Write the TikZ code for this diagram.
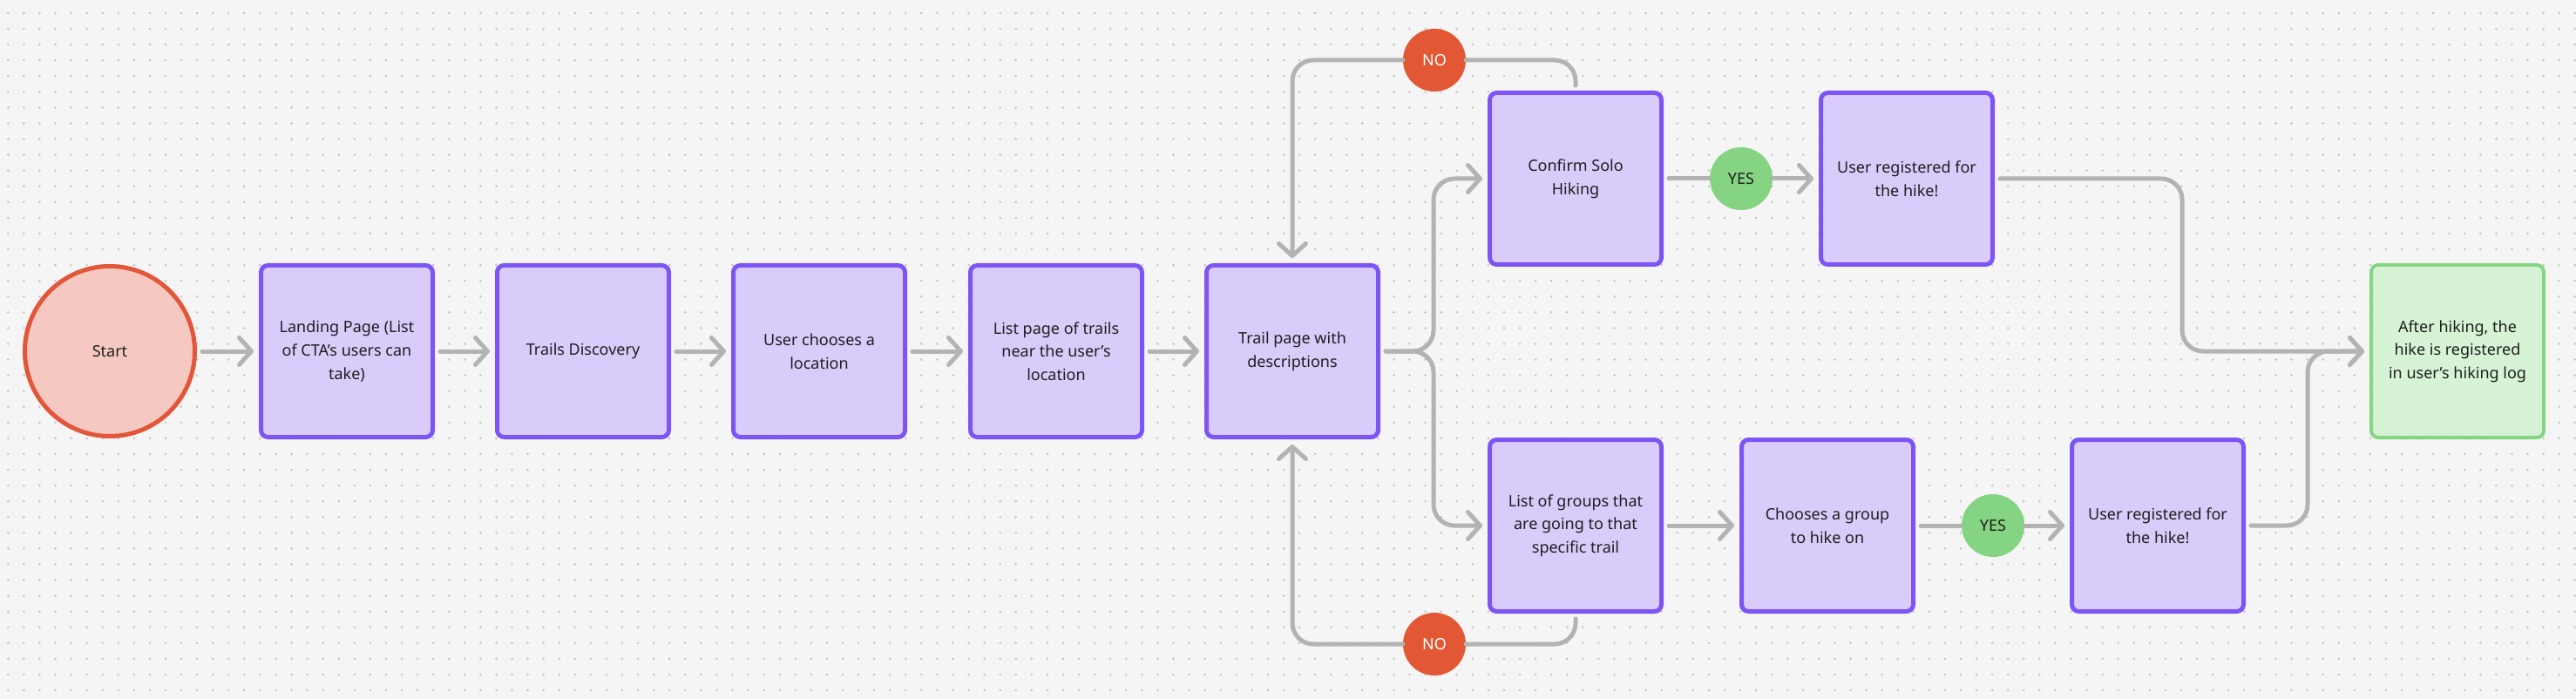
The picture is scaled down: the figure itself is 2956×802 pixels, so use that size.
\documentclass[tikz,border=0pt]{standalone}
\usepackage{fontspec}
\setmainfont{Noto Sans}
\usetikzlibrary{arrows.meta}
\definecolor{bgcol}{HTML}{F5F5F5}
\definecolor{dotgray}{HTML}{C2C2C2}
\definecolor{boxline}{HTML}{7C55F4}
\definecolor{boxfill}{HTML}{D9CCFA}
\definecolor{startline}{HTML}{E2563A}
\definecolor{startfill}{HTML}{F6C8C2}
\definecolor{nofill}{HTML}{E25835}
\definecolor{yesfill}{HTML}{84D483}
\definecolor{okline}{HTML}{86D583}
\definecolor{okfill}{HTML}{D6F3D5}
\definecolor{wire}{HTML}{B3B3B3}
\definecolor{ink}{HTML}{1E1E1E}
\newcommand\labelfont{\fontsize{18}{26.7}\selectfont}
\tikzset{
  screen/.style={rectangle, rounded corners=8pt, draw=boxline, fill=boxfill, line width=5pt,
    minimum width=197pt, minimum height=197pt, align=center, text=ink, font=\labelfont},
  done/.style={screen, draw=okline, fill=okfill, line width=4pt, minimum width=198pt, minimum height=198pt},
  startdot/.style={circle, draw=startline, fill=startfill, line width=5pt, minimum size=195pt,
    text=ink, font=\labelfont},
  nobubble/.style={circle, fill=nofill, minimum size=72pt, inner sep=0pt, text=white, font=\labelfont},
  yesbubble/.style={nobubble, fill=yesfill, text=ink},
  link/.style={draw=wire, line width=5pt, rounded corners=24pt, line cap=round},
  flow/.style={link, -{Straight Barb[length=14pt, width=31pt, line cap=round, line join=round]}},
  gap/.style={shorten <=6pt, shorten >=6pt},
  dotrow/.style={draw=dotgray, line width=2.8pt, line cap=round, dash pattern=on 0pt off 18.07pt}
}
\begin{document}
\begin{tikzpicture}[x=1pt, y=-1pt]
		%%%%% BACKGROUND %%%%%
		\fill[bgcol] (0, 0) rectangle (2956, 802);
		\useasboundingbox (0, 0) rectangle (2956, 802);
		\foreach \j in {0,...,43}
			\draw[dotrow] (9.3, 15+18.07*\j) -- (2956, 15+18.07*\j);
		
		%%%%% MAIN ROW %%%%%
		\node[startdot] (start) at (126, 403) {Start};
		\node[screen] (landing) at (398, 403) {Landing Page (List\\of CTA’s users can\\take)};
		\node[screen] (discovery) at (669, 403) {Trails Discovery};
		\node[screen] (location) at (940, 403) {User chooses a\\location};
		\node[screen] (nearby) at (1212, 403) {List page of trails\\near the user’s\\location};
		\node[screen] (trail) at (1483, 403) {Trail page with\\descriptions};
		
		%%%%% SOLO %%%%%
		\node[screen] (solo) at (1808, 205) {Confirm Solo\\Hiking};
		\node[screen] (soloreg) at (2188, 205) {User registered for\\the hike!};
		\node[nobubble] (solono) at (1646, 69) {NO};
		\node[yesbubble] (soloyes) at (1998, 205) {YES};
		
		%%%%% GROUP %%%%%
		\node[screen] (groups) at (1808, 603) {List of groups that\\are going to that\\specific trail};
		\node[screen] (pick) at (2097, 603) {Chooses a group\\to hike on};
		\node[screen] (groupreg) at (2476, 603) {User registered for\\the hike!};
		\node[nobubble] (groupno) at (1646, 739) {NO};
		\node[yesbubble] (groupyes) at (2287, 603) {YES};
		
		%%%%% END %%%%%
		\node[done] (hikelog) at (2820, 403) {After hiking, the\\hike is registered\\in user’s hiking log};
		
		%%%%% CONNECTORS %%%%%
		\draw[flow, gap] (start) -- (landing);
		\draw[flow, gap] (landing) -- (discovery);
		\draw[flow, gap] (discovery) -- (location);
		\draw[flow, gap] (location) -- (nearby);
		\draw[flow, gap] (nearby) -- (trail);
		
		\coordinate (fork) at (1645, 403);
		\draw[flow, gap] (trail.east) -- (fork) |- (solo.west);
		\draw[flow, gap] (trail.east) -- (fork) |- (groups.west);
		
		\draw[link, shorten <=6pt] (solo.north) |- (solono);
		\draw[flow, shorten >=6pt] (solono) -| (trail.north);
		\draw[link, shorten <=6pt] (groups.south) |- (groupno);
		\draw[flow, shorten >=6pt] (groupno) -| (trail.south);
		
		\draw[link, shorten <=6pt] (solo) -- (soloyes);
		\draw[flow, shorten >=6pt] (soloyes) -- (soloreg);
		\draw[flow, gap] (groups) -- (pick);
		\draw[link, shorten <=6pt] (pick) -- (groupyes);
		\draw[flow, shorten >=6pt] (groupyes) -- (groupreg);
		
		\coordinate (joinsolo) at (2504, 403);
		\coordinate (joingroup) at (2648, 403);
		\draw[flow, gap] (soloreg.east) -| (joinsolo) -- (hikelog.west);
		\draw[flow, gap] (groupreg.east) -| (joingroup) -- (hikelog.west);
	\end{tikzpicture}
\end{document}
